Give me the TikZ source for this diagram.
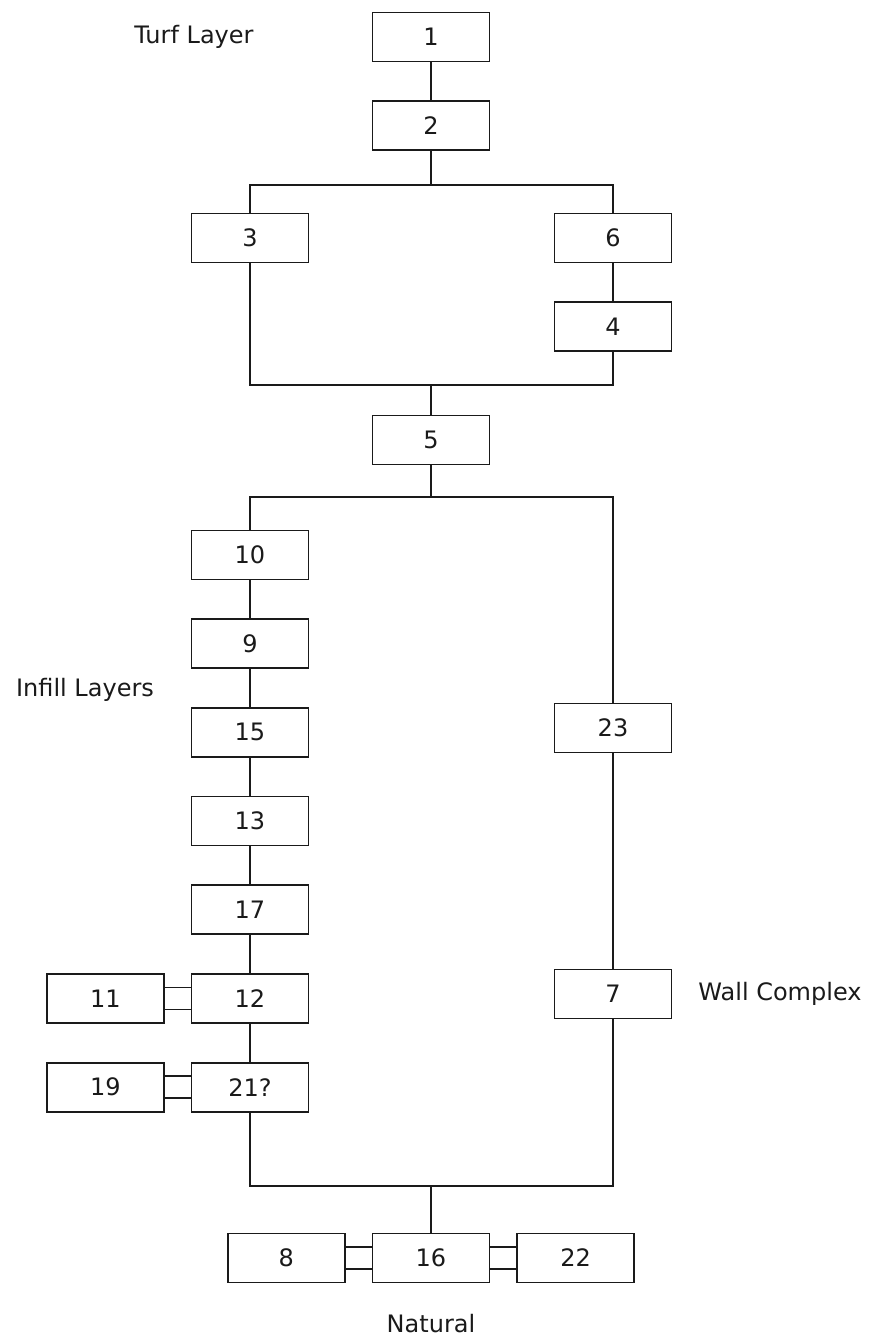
\documentclass[tikz,border=0pt]{standalone}
\usepackage{fontspec}
\setmainfont{DejaVu Sans}
\usepackage{tikz}
\usetikzlibrary{positioning}
\definecolor{hmInk}{HTML}{1A1A1A}
\tikzset{
  ctxbox/.style={rectangle,draw=hmInk,fill=white,line width=1.7pt,
    minimum width=117pt,minimum height=49pt,inner sep=0pt,text=hmInk,
    font=\fontsize{24}{28}\selectfont},
  phaselabel/.style={text=hmInk,inner sep=0pt,font=\fontsize{24}{28}\selectfont},
  link/.style={draw=hmInk,line width=1.7pt}
}
\begin{document}
\begin{tikzpicture}[x=1pt,y=1pt,node distance=38pt and 26pt]
  \useasboundingbox (0,0) rectangle (872,-1342);
  \node[ctxbox] (c1) at (431,-37) {1};
  \node[ctxbox, below=of c1] (c2) {2};
  \node[ctxbox] (c3) at (250,-238) {3};
  \node[ctxbox] (c6) at (613,-238) {6};
  \node[ctxbox, below=of c6] (c4) {4};
  \node[ctxbox] (c5) at (431,-440) {5};
  \node[ctxbox] (c10) at (250,-555) {10};
  \node[ctxbox, below=of c10] (c9) {9};
  \node[ctxbox, below=of c9] (c15) {15};
  \node[ctxbox, below=of c15] (c13) {13};
  \node[ctxbox, below=of c13] (c17) {17};
  \node[ctxbox, below=of c17] (c12) {12};
  \node[ctxbox, below=of c12] (c21) {21?};
  \node[ctxbox, left=of c12] (c11) {11};
  \node[ctxbox, left=of c21] (c19) {19};
  \node[ctxbox] (c23) at (613,-728) {23};
  \node[ctxbox] (c7) at (613,-994) {7};
  \node[ctxbox] (c16) at (431,-1258) {16};
  \node[ctxbox, left=of c16] (c8) {8};
  \node[ctxbox, right=of c16] (c22) {22};
  \node[phaselabel] (turf) at (194,-37) {Turf Layer};
  \node[phaselabel] (infill) at (85,-690) {Infill Layers};
  \node[phaselabel] (wall) at (780,-994) {Wall Complex};
  \node[phaselabel] (natural) at (431,-1324) {Natural};
  \coordinate (j1) at (431,-185);
  \coordinate (j2) at (431,-385);
  \coordinate (j3) at (431,-497);
  \coordinate (j4) at (431,-1186);
  \draw[link] (c1) -- (c2);
  \draw[link] (c2) -- (j1);
  \draw[link] (c3) |- (j1) -| (c6);
  \draw[link] (c6) -- (c4);
  \draw[link] (c3) |- (j2) -| (c4);
  \draw[link] (j2) -- (c5);
  \draw[link] (c5) -- (j3);
  \draw[link] (c10) |- (j3) -| (c23);
  \draw[link] (c10) -- (c9);
  \draw[link] (c9) -- (c15);
  \draw[link] (c15) -- (c13);
  \draw[link] (c13) -- (c17);
  \draw[link] (c17) -- (c12);
  \draw[link] (c12) -- (c21);
  \draw[link] (c23) -- (c7);
  \draw[link] (c21) |- (j4) -| (c7);
  \draw[link] (j4) -- (c16);
  \foreach \a/\b in {c11/c12, c19/c21, c8/c16, c16/c22}
    \draw[link] ([yshift=11pt]\a.east) -- ([yshift=11pt]\b.west)
                ([yshift=-11pt]\a.east) -- ([yshift=-11pt]\b.west);
\end{tikzpicture}
\end{document}
